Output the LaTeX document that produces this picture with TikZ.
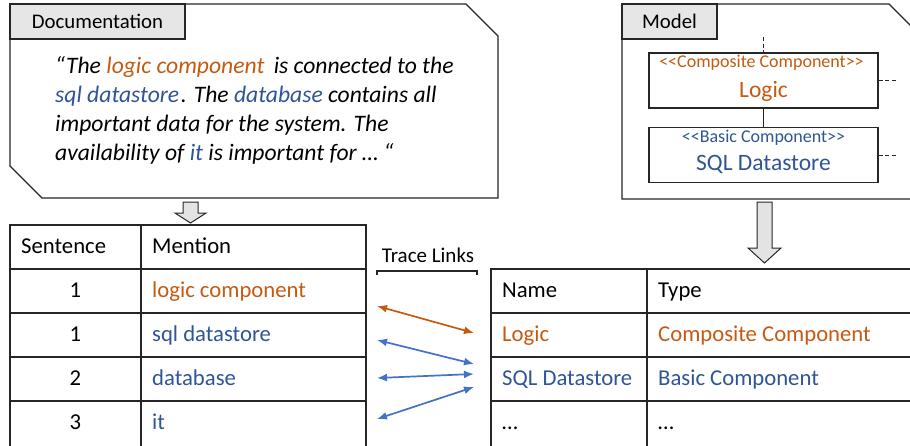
\documentclass[tikz,border=0pt]{standalone}
\usepackage{fontspec}
\setmainfont{Carlito}
\usetikzlibrary{arrows.meta}
\definecolor{orng}{HTML}{C55A11}
\definecolor{dblue}{HTML}{2F5597}
\definecolor{ablue}{HTML}{4472C4}
\definecolor{tabgray}{HTML}{E7E6E6}
\definecolor{arrgray}{HTML}{E3E3E3}
\tikzset{
  frame/.style={draw=black!85, line width=1.3pt, fill=white},
  tabbox/.style={draw=black!85, line width=1.3pt, fill=tabgray},
  grid/.style={draw=black!85, line width=1.3pt},
  blockarrow/.style={draw=black!85, line width=1pt, fill=arrgray},
  doctext/.style={anchor=base west, inner sep=0pt, font=\fontsize{23.6}{28}\selectfont\itshape},
  celltext/.style={anchor=base west, inner sep=0pt, font=\fontsize{22.7}{27}\selectfont},
  cellc/.style={anchor=base, inner sep=0pt, font=\fontsize{22.7}{27}\selectfont},
  tablabel/.style={anchor=base, inner sep=0pt, font=\fontsize{20.8}{25}\selectfont},
  stereo/.style={anchor=base, inner sep=0pt, font=\fontsize{18}{22}\selectfont},
  compname/.style={anchor=base, inner sep=0pt, font=\fontsize{23.5}{28}\selectfont},
  tracelink/.style={line width=1.7pt, {Latex[length=10pt,width=8pt]}-{Latex[length=10pt,width=8pt]}},
  dashline/.style={line width=1pt, dashed, dash pattern=on 4pt off 2.5pt, black!85},
  compbox/.style={draw=black!85, line width=1.3pt, fill=white, inner sep=0pt, minimum width=229pt, minimum height=55pt}
}
\begin{document}
\begin{tikzpicture}[x=1pt,y=-1pt]
\useasboundingbox (0,0) rectangle (910,445);
\clip (0,0) rectangle (910,445);
% Documentation frame
\path[frame] (10,4) -- (466,4) -- (498,36) -- (498,198) -- (42,198) -- (10,166) -- cycle;
\path[tabbox] (10,4) rectangle (185,39);
\node[tablabel] (doclabel) at (97.5,28) {Documentation};
\node[doctext] (d1) at (55,73) {“The \textcolor{orng}{logic component}\hspace{4pt} is connected to the};
\node[doctext] (d2) at (55,102) {\textcolor{dblue}{sql datastore}\hspace{1.5pt}. The \textcolor{dblue}{database} contains all};
\node[doctext] (d3) at (55,131) {important data for the system. The};
\node[doctext] (d4) at (55,160) {availability of \textcolor{dblue}{it} is important for … “};
% Model frame
\path[frame] (622,4) -- (889,4) -- (921,36) -- (921,199) -- (622,199) -- cycle;
\path[tabbox] (622,4) rectangle (717,39);
\node[tablabel] (modlabel) at (669.5,28) {Model};
\node[compbox] (logicbox) at (763.5,80.5) {};
\node[compbox] (sqlbox) at (763.5,155) {};
\node[stereo, text=orng] (st1) at (761.5,67) {<{}<Composite Component>{}>};
\node[compname, text=orng] (n1) at (763.5,97) {Logic};
\node[stereo, text=dblue] (st2) at (763.5,142) {<{}<Basic Component>{}>};
\node[compname, text=dblue] (n2) at (763.5,170) {SQL Datastore};
\draw[black!85, line width=1.3pt] (logicbox.south) -- (sqlbox.north);
\coordinate (topdash) at (763.5,37);
\draw[dashline] (topdash) -- (logicbox.north);
\coordinate (rd1) at (896,80.5);
\coordinate (rd2) at (896,155);
\draw[dashline] (logicbox.east) -- (rd1);
\draw[dashline] (sqlbox.east) -- (rd2);
% block arrows
\path[blockarrow] (183,202) -- (198,202) -- (198,213) -- (206,213) -- (190.5,223) -- (175,213) -- (183,213) -- cycle;
\path[blockarrow] (757,202) -- (772,202) -- (772,248) -- (781,248) -- (764.5,263) -- (748,248) -- (757,248) -- cycle;
% Left table
\draw[grid] (10,446) -- (10,225) -- (366,225) -- (366,446);
\draw[grid] (141,225) -- (141,446);
\foreach \yy in {269,313,357,401} \draw[grid] (10,\yy) -- (366,\yy);
\node[celltext] (hsent) at (21,253) {Sentence};
\node[celltext] (hment) at (152,253) {Mention};
\node[cellc] (s1) at (75.5,297) {1};
\node[cellc] (s2) at (75.5,341) {1};
\node[cellc] (s3) at (75.5,385) {2};
\node[cellc] (s4) at (75.5,429) {3};
\node[celltext, text=orng] (m1) at (152,297) {logic component};
\node[celltext, text=dblue] (m2) at (152,341) {sql datastore};
\node[celltext, text=dblue] (m3) at (152,385) {database};
\node[celltext, text=dblue] (m4) at (152,429) {it};
% Right table
\draw[grid] (491,446) -- (491,269) -- (915,269);
\draw[grid] (647,269) -- (647,446);
\foreach \yy in {313,357,401} \draw[grid] (491,\yy) -- (915,\yy);
\node[celltext] (hname) at (502,297) {Name};
\node[celltext] (htype) at (658,297) {Type};
\node[celltext, text=orng] (r1a) at (502,341) {Logic};
\node[celltext, text=orng] (r1b) at (658,341) {Composite Component};
\node[celltext, text=dblue] (r2a) at (502,385) {SQL Datastore};
\node[celltext, text=dblue] (r2b) at (658,385) {Basic Component};
\node[celltext] (r3a) at (502,429) {…};
\node[celltext] (r3b) at (658,429) {…};
% Trace links
\node[anchor=base, inner sep=0pt, font=\fontsize{21}{25}\selectfont] (tl) at (428,262) {Trace Links};
\draw[black!85, line width=1.2pt] (377,275) -- (377,271) -- (477,271) -- (477,275);
\coordinate (la) at (377,306);
\coordinate (lb) at (377,340);
\coordinate (lc) at (377,378);
\coordinate (ld) at (377,419);
\coordinate (ra) at (474,333);
\coordinate (rb) at (474,364);
\coordinate (rc) at (474,374);
\coordinate (rd) at (474,387);
\draw[tracelink, orng] (la) -- (ra);
\draw[tracelink, ablue] (lb) -- (rb);
\draw[tracelink, ablue] (lc) -- (rc);
\draw[tracelink, ablue] (ld) -- (rd);
\end{tikzpicture}
\end{document}
